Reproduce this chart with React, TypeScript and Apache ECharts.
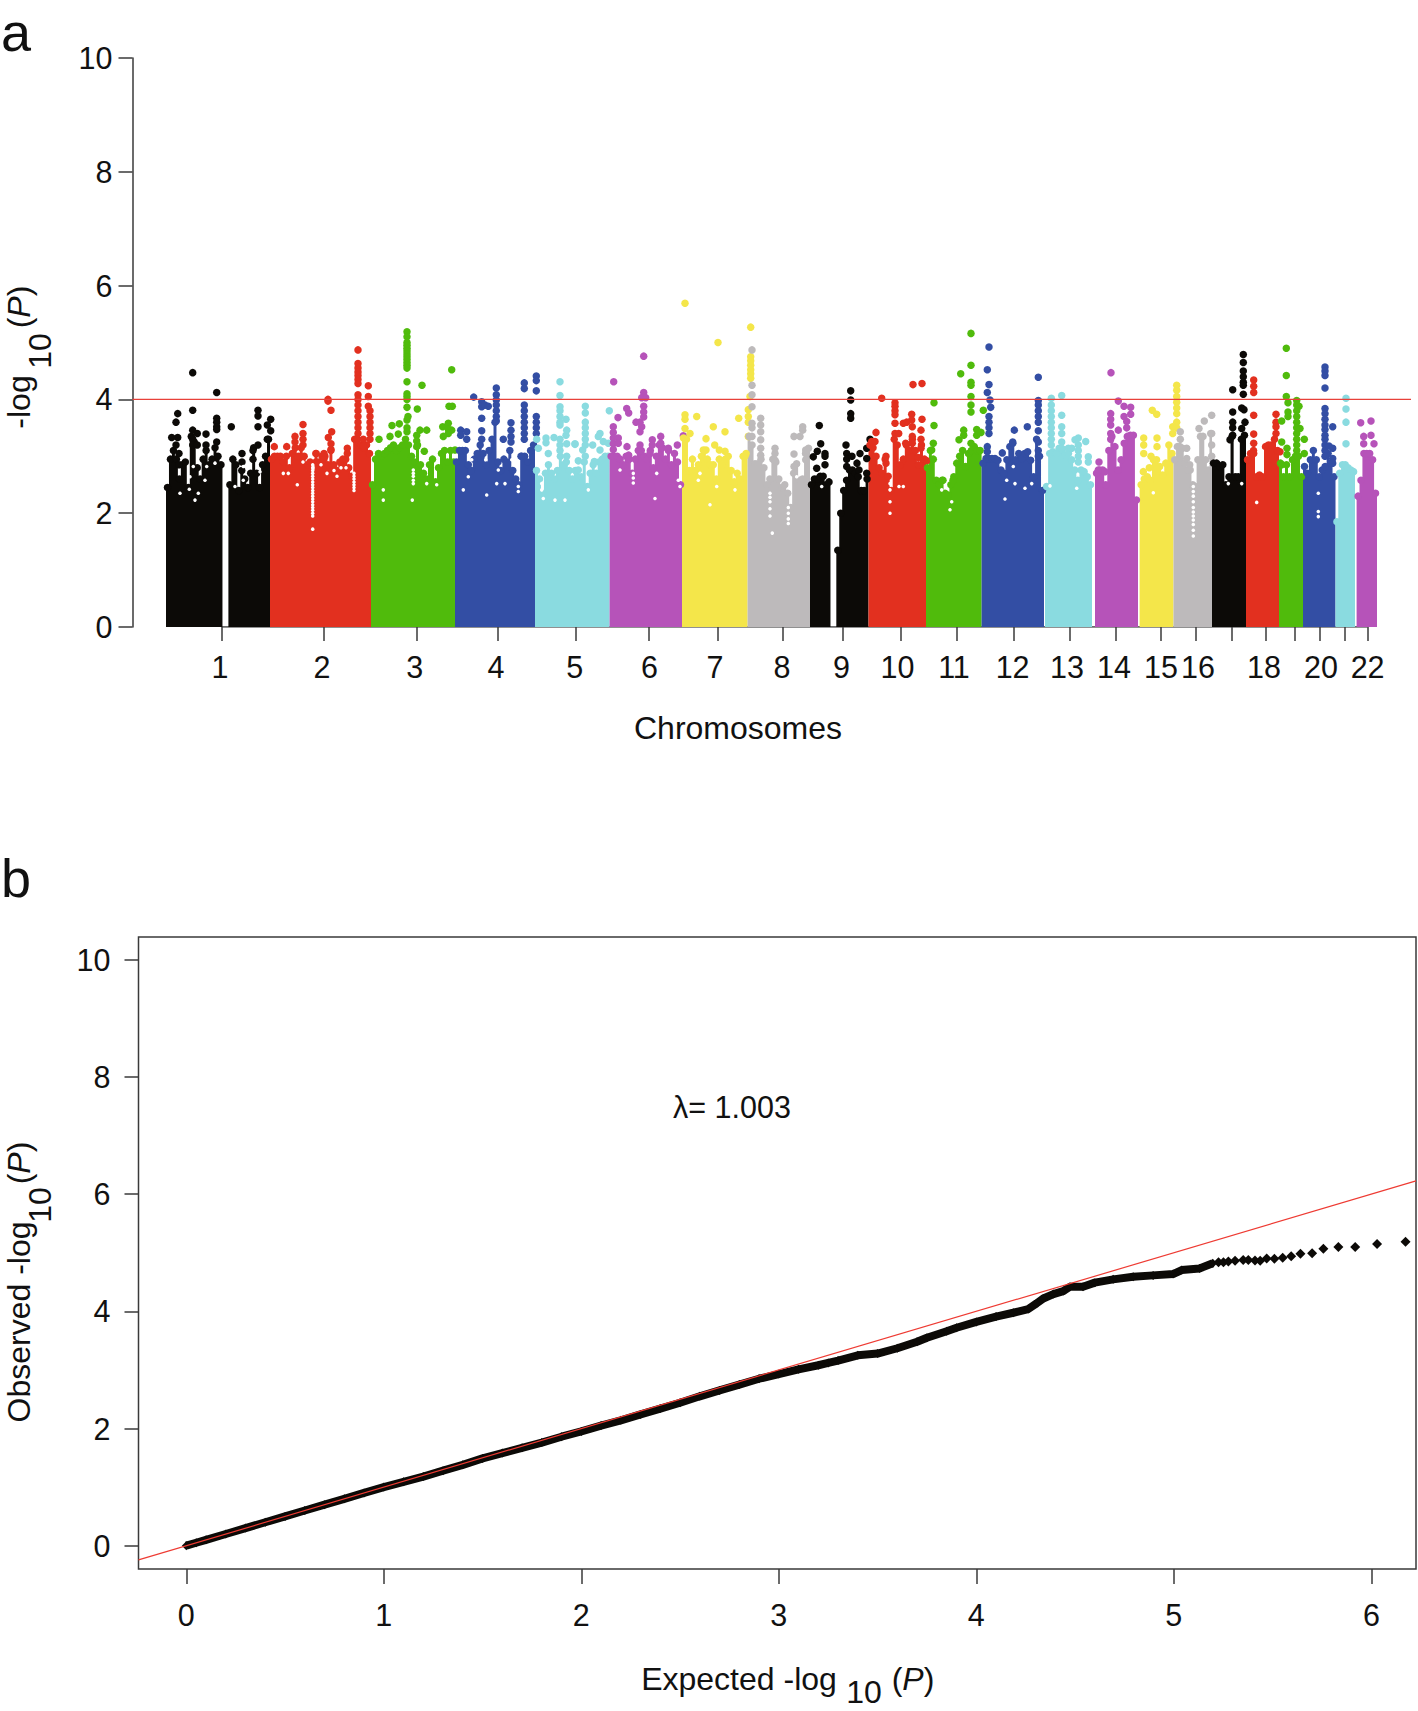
import React, { useEffect, useRef } from "react";
import * as echarts from "echarts";

const FONT = "Liberation Sans";

// ---------- Panel a : genome position runs in scaled units from the start of chr 1 ----------
const chromStart = [0, 104, 205, 289, 369, 443.6, 516, 581.6, 644, 702.5, 760, 815.6, 879, 929, 973.6, 1007.5, 1046, 1080, 1113, 1137, 1169.5, 1190.6];
const chromEnd = [104, 205, 289, 369, 443.6, 516, 581.6, 644, 702.5, 760, 815.6, 878, 926, 972, 1007.5, 1046, 1080, 1113, 1137, 1169.5, 1189, 1211];
const chromTicks = [56, 158, 250.7, 332, 409.7, 482.6, 552, 617, 676.4, 734.5, 791, 847.6, 904, 950, 995, 1030, 1066, 1100, 1129, 1154, 1179, 1201.6];
const labelledTicks = [54, 156, 248.7, 330, 408.7, 483.6, 549, 616, 675.4, 731.5, 788, 846.6, 901, 948, 995, 1032, 1098, 1155, 1201.6];
const labelledNames = ["1", "2", "3", "4", "5", "6", "7", "8", "9", "10", "11", "12", "13", "14", "15", "16", "18", "20", "22"];
const chromColors = ["#0c0a07", "#e2301f", "#50bb0c", "#334ea4", "#8adbe0", "#b653b9", "#f4e64a", "#bdbabb"];
const threshold = 4;

// Top of the solid mass of points, in equal bins along each chromosome
const chr1Tops = [2.45, 2.95, 3.1, 2.95, 2.6, 2.85, 2.9, 2.45, 3.35, 3.25, 2.8, 2.6, 2.95, 3.1, 2.85, 2.95, 3.15, 3.0, 2.85, 0, 0, 2.5, 2.95, 2.85, 2.4, 2.75, 2.6, 2.45, 2.7, 3.15, 2.7, 2.45, 2.85, 3.0, 3.3];
const chr2Tops = [2.95, 3.0, 3.0, 3.0, 2.9, 3.0, 2.8, 3.05, 3.15, 3.0, 3.15, 3.0, 2.85, 2.9, 2.7, 3.05, 2.9, 3.0, 3.0, 2.85, 3.1, 2.85, 2.75, 2.9, 2.95, 2.95, 2.8, 2.65, 3.3, 3.3, 3.2, 3.15, 3.2, 3.05];
const chr3Tops = [2.5, 2.95, 3.05, 3.0, 3.05, 3.1, 3.15, 3.2, 3.1, 3.15, 3.2, 3.3, 3.2, 3.0, 2.9, 3.2, 2.85, 2.7, 2.6, 2.85, 2.95, 2.55, 2.8, 3.05, 3.1, 2.9, 3.1, 2.9];
const chr4Tops = [2.9, 3.1, 3.1, 3.1, 2.85, 2.75, 2.95, 3.05, 3.2, 3.05, 2.85, 3.1, 3.3, 3.6, 2.9, 2.75, 2.95, 2.9, 3.1, 2.75, 2.6, 2.5, 3.0, 3.0, 2.9, 3.1, 3.2];
const chr5Tops = [2.75, 2.6, 2.35, 2.7, 2.85, 2.7, 2.6, 2.75, 3.0, 2.85, 2.9, 2.75, 2.6, 2.75, 2.76, 2.64, 2.9, 2.47, 2.7, 2.85, 2.7, 2.9, 2.95, 3.0, 3.0];
const chr6Tops = [3.0, 3.0, 3.0, 2.95, 2.85, 3.0, 2.95, 2.7, 2.95, 3.1, 3.1, 3.0, 2.95, 3.1, 2.8, 3.0, 3.2, 3.15, 2.95, 3.1, 2.85, 3.05, 2.9, 2.5];
const chr7Tops = [3.32, 3.3, 2.75, 2.95, 2.75, 2.85, 3.0, 3.1, 2.95, 2.85, 2.85, 2.6, 2.95, 2.85, 2.95, 3.0, 2.75, 2.55, 2.7, 2.6, 3.0, 3.05];
const chr8Tops = [3.35, 3.2, 2.87, 2.87, 2.95, 2.8, 2.5, 2.6, 2.95, 2.9, 2.6, 2.45, 2.5, 2.35, 2.1, 2.7, 2.87, 2.58, 2.6, 3.05, 3.14];
const chr9Tops = [2.5, 2.6, 2.6, 2.65, 2.65, 2.5, 2.55, 0, 0, 1.35, 2.0, 2.4, 2.58, 2.76, 2.76, 2.7, 2.64, 2.4, 2.4, 2.6];
const chr10Tops = [3.2, 3.15, 3.0, 2.8, 2.7, 2.95, 2.65, 2.4, 3.3, 3.2, 2.85, 2.95, 3.2, 3.1, 3.3, 3.1, 2.85, 3.2, 2.95];
const chr11Tops = [2.8, 3.1, 2.95, 2.58, 2.5, 2.58, 2.35, 2.32, 2.5, 2.64, 2.88, 3.0, 3.1, 2.82, 3.05, 3.1, 3.17, 3.1, 3.1];
const chr12Tops = [2.88, 2.96, 2.96, 2.96, 2.96, 2.93, 2.76, 2.7, 2.94, 3.17, 3.23, 2.94, 3.05, 2.96, 3.05, 3.08, 2.93, 2.64, 3.3, 3.0, 2.4];
const chr13Tops = [2.47, 3.05, 3.08, 3.05, 3.14, 3.11, 3.02, 3.05, 2.94, 2.76, 2.58, 2.76, 2.73, 2.64, 2.5];
const chr14Tops = [2.7, 2.76, 2.76, 2.5, 3.1, 3.35, 3.17, 2.76, 2.94, 3.23, 3.35, 3.37, 3.37, 2.23];
const chr15Tops = [2.5, 2.6, 2.64, 2.58, 2.94, 2.94, 2.82, 2.67, 2.88, 3.2, 3.05];
const chr16Tops = [2.94, 3.17, 3.17, 3.14, 2.88, 2.76, 2.76, 2.5, 2.47, 2.94, 3.35, 3.35, 2.94, 2.76, 3.4];
const chr17Tops = [2.88, 2.88, 2.82, 2.85, 2.5, 2.64, 3.35, 2.64, 2.64, 3.3, 3.37];
const chr18Tops = [2.94, 3.05, 3.1, 2.64, 2.67, 2.64, 3.17, 3.2, 3.2, 3.3, 3.1];
const chr19Tops = [2.88, 2.64, 2.85, 2.64, 2.94, 3.0, 3.0, 2.64];
const chr20Tops = [2.82, 2.7, 2.94, 3.1, 2.94, 2.64, 2.76, 2.82, 3.05, 2.88, 2.64];
const chr21Tops = [1.85, 2.7, 2.85, 2.85, 2.8, 2.76, 2.73];
const chr22Tops = [2.3, 2.58, 3.05, 3.05, 3.05, 2.94, 2.35];

// Separate points above the mass: each row is [position, value, value, ...]
const chr1Hits = [[26.7, 4.47, 3.81, 3.46, 3.3, 3.2], [50.7, 4.12, 3.67, 3.6, 3.52, 3.47, 3.25], [11.7, 3.75, 3.33], [10, 3.6, 3.2], [92, 3.81, 3.71, 3.52, 3.2], [65.3, 3.52], [104.7, 3.65, 3.45], [101.3, 3.55, 3.3], [5.7, 3.33], [31.3, 3.4, 3.2], [40, 3.39, 3.2], [76, 3.05, 2.9], [87, 3.1, 2.95], [13, 3.05, 2.85]];
const chr2Hits = [[192, 4.87, 4.63, 4.55, 4.48, 4.42, 4.35, 4.28, 4.08, 4.0, 3.9, 3.8, 3.7, 3.6, 3.5, 3.4], [202.3, 4.24, 4.05, 3.88], [204, 3.8, 3.7, 3.6, 3.5, 3.4, 3.3], [162, 4.0, 3.97], [165, 3.81, 3.22, 3.12], [137, 3.56, 3.4, 3.3, 3.2], [129, 3.35, 3.25], [120.7, 3.17], [108.3, 3.17], [165.7, 3.43], [162.3, 3.33], [181.3, 3.14, 3.05], [158, 3.05, 2.95], [150, 3.05, 2.9], [197.3, 3.3, 3.18]];
const chr3Hits = [[241, 5.19, 5.1, 5.0, 4.95, 4.9, 4.85, 4.8, 4.75, 4.7, 4.65, 4.6, 4.55, 4.31, 4.1, 4.05, 4.0, 3.86, 3.64, 3.5, 3.43], [256, 4.25], [285.7, 4.52, 3.46], [251.3, 3.83], [283, 3.88], [286.3, 3.88], [242, 3.7], [226, 3.54], [233.3, 3.57], [260.7, 3.46], [254, 3.46], [250.7, 3.37, 3.27, 3.17], [276.7, 3.52], [282.3, 3.58, 3.48, 3.4], [277.3, 3.35], [213, 3.3], [224, 3.35], [232.3, 3.39], [258.3, 3.09], [289, 3.11]];
const chr4Hits = [[370.3, 4.41, 4.33, 4.15, 3.7, 3.6, 3.5, 3.4], [358.3, 4.29, 4.19, 3.9, 3.8, 3.7, 3.6, 3.5, 3.4, 3.3], [330.3, 4.2, 4.08, 3.99, 3.9, 3.8, 3.7, 3.62], [307.7, 4.04], [315.7, 3.87, 3.96, 3.67, 3.45, 3.3], [319, 3.9], [322.3, 3.88], [345, 3.59, 3.46, 3.35, 3.25], [337.3, 3.3], [294.7, 3.46, 3.37], [300.7, 3.43, 3.3], [355, 3.0]];
const chr5Hits = [[394, 4.31, 4.07, 3.87, 3.8, 3.7, 3.6, 3.55, 3.3, 3.2, 3.1], [400, 3.65, 3.37], [400.7, 3.46, 3.22, 3.0], [370.7, 3.3], [380, 3.32, 3.24], [388, 3.33], [409, 3.22, 3.21], [382.3, 3.05], [372.3, 3.14], [412.3, 2.92], [419.3, 3.88, 3.76, 3.6, 3.5, 3.4, 3.3, 3.2, 3.0], [443.3, 3.8], [434, 3.4, 3.11], [437.3, 3.26], [432.3, 3.35], [426.7, 3.2], [416.7, 3.11], [442.3, 3.23], [428.3, 2.91]];
const chr6Hits = [[477.7, 4.76, 4.12, 4.05, 3.88, 3.78, 3.69], [447.7, 4.31], [475.7, 4.03, 3.52], [479.7, 4.03], [460.7, 3.84], [462.7, 3.76, 3.02], [452, 3.68], [470, 3.6], [474, 3.6, 3.43, 3.2], [447.3, 3.52, 3.42, 3.32, 3.22, 3.12], [452.3, 3.32, 3.23], [461, 3.17], [486.3, 3.29, 3.2], [494.7, 3.35, 3.23], [502.3, 3.14], [511.3, 3.2], [517.3, 3.36], [484, 3.05]];
const chr7Hits = [[519, 5.69, 3.73, 3.65, 3.49], [552, 5.0], [584.7, 5.27, 4.75, 4.68, 4.6, 4.52, 4.45, 4.37], [584, 4.05], [582.3, 3.82, 3.7, 3.6, 3.35], [579, 3.0], [530.7, 3.7], [572.7, 3.67], [547.3, 3.52], [524, 3.4], [559, 3.43, 3.09], [540, 3.31, 3.11], [548.7, 3.2], [553.3, 3.11], [537.3, 3.11]];
const chr8Hits = [[586, 4.87, 4.25, 4.08, 3.87, 3.58, 3.5, 3.35], [594.7, 3.67, 3.55, 3.43, 3.29, 3.14, 3.02], [609, 3.14, 3.05, 2.93], [636.7, 3.52, 3.46], [628, 3.35, 3.04, 2.82], [634, 3.35], [639.7, 3.11, 2.94]];
const chr9Hits = [[684.7, 4.15, 3.99, 3.75, 3.67], [653.3, 3.54], [654.7, 3.22], [651.3, 3.09], [647.3, 2.99], [659, 3.05, 3.0, 2.85], [650.7, 2.79], [680, 3.2], [704, 3.3], [700.7, 3.14, 2.96, 2.7], [694, 3.05], [680.7, 3.05, 2.95, 2.82], [686, 3.0], [691, 2.88], [693, 2.76]];
const chr10Hits = [[715.7, 4.02], [747, 4.26], [756, 4.28, 3.65], [729, 3.94, 3.88, 3.8, 3.73, 3.58, 3.4], [745.7, 3.74, 3.64], [746.3, 3.52, 3.35, 3.23], [755, 3.46, 3.3, 3.14], [737.3, 3.58], [740.7, 3.6], [710, 3.42], [705.7, 3.26], [709, 3.26], [720, 3.0, 2.88], [739.7, 3.23], [732.7, 3.4], [760.7, 2.92], [752.3, 2.98]];
const chr11Hits = [[805, 5.16, 4.6, 4.3, 4.25, 4.05, 3.9, 3.78, 3.23], [794.7, 4.45], [768, 3.94, 3.54], [817.3, 3.81], [767.3, 3.23], [765.7, 3.11], [797.7, 3.46, 3.37], [793, 3.29], [810.7, 3.47, 3.37], [815, 3.42], [777, 2.58], [787, 2.58]];
const chr12Hits = [[823, 4.92, 4.26, 3.7, 3.6, 3.5, 3.4], [821.3, 4.52, 4.12, 3.17, 3.08], [824, 3.99], [824.7, 3.86], [872.3, 4.39, 3.98, 3.9, 3.8, 3.7, 3.6, 3.45, 3.25, 3.1, 3.0], [848.3, 3.46], [861.3, 3.52], [836.3, 3.06], [846.7, 3.25]];
const chr13Hits = [[885.3, 4.02, 3.9, 3.8, 3.7, 3.6, 3.5, 3.4, 3.3, 3.2], [895.7, 4.07, 3.72, 3.52, 3.4, 3.25, 3.14], [902.3, 3.14], [905.7, 3.14], [912.3, 3.32, 3.2, 3.1, 3.0, 2.9], [909, 3.29], [919.7, 3.26], [922.3, 2.99, 2.9]];
const chr14Hits = [[945, 4.47], [952.3, 3.97, 3.46], [958, 3.88, 3.7], [964.7, 3.86, 3.74], [960.7, 3.61, 3.5], [944.7, 3.75, 3.65, 3.55, 3.4, 3.3], [933, 2.9], [932.3, 2.76], [939, 2.73]];
const chr15Hits = [[1010.7, 4.25, 4.16, 4.05, 3.95, 3.85, 3.75, 3.6, 3.5], [1006.7, 3.52, 3.4], [986.3, 3.81], [990.7, 3.74], [977.7, 3.32, 3.2, 3.05], [991, 3.32, 3.17], [985, 3.0], [983.3, 2.8], [977.3, 2.73]];
const chr16Hits = [[1014.3, 3.43, 3.3], [1045.7, 3.72, 3.4, 3.2, 3.0], [1038.3, 3.62], [1033, 3.49], [1020.7, 3.14, 2.96], [1023.7, 2.85]];
const chr17Hits = [[1077.3, 4.79, 4.65, 4.5, 4.4, 4.3, 4.25, 4.09], [1066.7, 4.17, 3.78, 3.6, 3.5, 3.37], [1075.7, 3.85, 3.49], [1078, 3.82], [1079, 3.6], [1064, 3.29]];
const chr18Hits = [[1087.7, 4.34, 4.23, 4.12, 3.72, 3.39, 3.23, 3.05], [1110, 3.74, 3.6, 3.52, 3.4], [1114, 3.08]];
const chr19Hits = [[1120.3, 4.9, 4.42, 4.05], [1122, 3.94, 3.78, 3.7], [1115.7, 3.62, 3.25, 2.85], [1121, 3.14, 3.03], [1130.7, 3.98, 3.9, 3.8, 3.7, 3.6, 3.5, 3.4, 3.3, 3.2, 3.1, 3.0], [1133, 3.88], [1134, 3.49], [1138.3, 3.3, 3.05]];
const chr20Hits = [[1159, 4.57, 4.5, 4.42, 4.2, 3.84, 3.75, 3.65, 3.55, 3.47, 3.37, 3.3, 3.2, 3.1, 3.0], [1166.7, 3.52, 3.14, 2.96, 2.88], [1163, 3.18]];
const chr21Hits = [[1180, 4.02, 3.83, 3.6, 3.22]];
const chr22Hits = [[1194.7, 3.59], [1205, 3.62, 3.37], [1197.7, 3.35, 3.22], [1208, 3.22]];

// Places inside the mass where no point falls (the white specks): [position, value, value, ...]
const massGaps = [
  [14, 2.35], [29, 2.23], [23.3, 2.42], [32.3, 2.35], [27.3, 2.82], [39, 2.58], [40.7, 2.82], [49, 2.88], [77.3, 2.82, 2.58], [69, 2.47], [94, 2.73], [24, 2.64],
  [146.7, 2.85, 2.8, 2.75, 2.7, 2.65, 2.6, 2.55, 2.5, 2.45, 2.4, 2.35, 2.3, 2.25, 2.2, 2.15, 2.1, 2.05, 2.0, 1.95, 1.72], [188, 2.7, 2.65, 2.6, 2.55, 2.5, 2.45, 2.4], [117.3, 2.7], [122.3, 2.7], [131.3, 2.5], [161, 2.7], [168, 2.75], [175, 2.8], [171, 2.65], [180, 2.8], [155, 2.85], [137, 2.9],
  [247.3, 2.76, 2.7, 2.65, 2.58, 2.52], [260.7, 2.52], [270.7, 2.5], [217.3, 2.41, 2.23], [246.3, 2.23],
  [305.7, 2.94], [302.3, 2.64], [332.3, 2.76], [339, 2.52], [330.7, 2.52], [320.7, 2.32], [297.3, 2.41], [352.3, 2.47, 2.38], [319.7, 2.94], [345.7, 2.94],
  [377.3, 2.26], [389, 2.23], [399, 2.23], [375.7, 2.52, 2.41], [422.3, 2.41],
  [467.3, 2.7, 2.62, 2.53], [454, 2.76], [490.7, 2.7], [489, 2.26], [514, 2.47], [512.3, 2.58],
  [532.3, 2.58], [550.7, 2.47], [569, 2.41], [534, 2.7], [544, 2.15],
  [604, 2.35, 2.28, 2.2, 2.08, 1.95], [606.3, 1.65], [622.3, 2.1, 2.0, 1.9, 1.82], [630.7, 2.64], [655.7, 2.47],
  [724, 2.52, 2.41, 2.2, 2.0], [733, 2.47], [737.3, 2.47], [784, 2.06], [785.7, 2.2], [775.7, 2.41],
  [839, 2.25], [849, 2.52], [865.7, 2.52], [859, 2.44], [840.7, 2.58], [847.3, 2.82], [910.7, 2.44], [884, 2.48], [987.3, 2.36],
  [1027.3, 2.47, 2.38, 2.3, 2.2, 2.1, 2.02, 1.95, 1.88, 1.8, 1.7, 1.6], [1090.7, 2.19], [1152.3, 2.35, 2.03, 1.94], [1075.7, 2.52], [1062.3, 2.52],
];

const allTops = [chr1Tops, chr2Tops, chr3Tops, chr4Tops, chr5Tops, chr6Tops, chr7Tops, chr8Tops, chr9Tops, chr10Tops, chr11Tops, chr12Tops, chr13Tops, chr14Tops, chr15Tops, chr16Tops, chr17Tops, chr18Tops, chr19Tops, chr20Tops, chr21Tops, chr22Tops];
const allHits = [chr1Hits, chr2Hits, chr3Hits, chr4Hits, chr5Hits, chr6Hits, chr7Hits, chr8Hits, chr9Hits, chr10Hits, chr11Hits, chr12Hits, chr13Hits, chr14Hits, chr15Hits, chr16Hits, chr17Hits, chr18Hits, chr19Hits, chr20Hits, chr21Hits, chr22Hits];

// ---------- Panel b ----------
const qqExpected = [0, 0.05, 0.1, 0.2, 0.3, 0.4, 0.5, 0.6, 0.7, 0.8, 0.9, 1, 1.1, 1.2, 1.3, 1.4, 1.5, 1.6, 1.7, 1.8, 1.9, 2, 2.1, 2.2, 2.3, 2.4, 2.5, 2.6, 2.7, 2.8, 2.9, 3, 3.1, 3.2, 3.25, 3.3, 3.4, 3.5, 3.6, 3.7, 3.75, 3.85, 3.9, 4, 4.1, 4.187, 4.263, 4.305, 4.339, 4.39, 4.44, 4.474, 4.54, 4.6, 4.693, 4.794, 4.895, 4.996, 5.04, 5.13, 5.197];
const qqObserved = [0, 0.05, 0.1, 0.2, 0.3, 0.4, 0.5, 0.6, 0.7, 0.8, 0.9, 1, 1.09, 1.18, 1.28, 1.38, 1.49, 1.58, 1.67, 1.76, 1.86, 1.95, 2.05, 2.14, 2.24, 2.34, 2.44, 2.55, 2.65, 2.75, 2.85, 2.93, 3.01, 3.08, 3.12, 3.16, 3.25, 3.28, 3.37, 3.48, 3.55, 3.66, 3.72, 3.82, 3.91, 3.976, 4.04, 4.136, 4.22, 4.295, 4.346, 4.42, 4.42, 4.49, 4.546, 4.59, 4.614, 4.636, 4.705, 4.733, 4.82];
const tailExpected = [5.226, 5.251, 5.276, 5.31, 5.351, 5.377, 5.411, 5.437, 5.47, 5.509, 5.551, 5.594, 5.641, 5.7, 5.757, 5.833, 5.918, 6.029, 6.173];
const tailObserved = [4.84, 4.84, 4.85, 4.864, 4.875, 4.875, 4.87, 4.864, 4.904, 4.898, 4.915, 4.94, 4.983, 4.99, 5.068, 5.097, 5.097, 5.15, 5.188];
const qqLine = [-0.242, 6.226];

const AXIS_COLOR = "#3a3a3a";
const TEXT_COLOR = "#111111";
const TICK_SIZE = 30.5;
const TITLE_SIZE = 32;

function text(x: number, y: number, str: string, size = TITLE_SIZE, rotation = 0, align = "center", extra: any = {}) {
  return {
    type: "text",
    x,
    y,
    rotation,
    silent: true,
    style: { text: str, fontFamily: FONT, fontSize: size, fill: TEXT_COLOR, align, verticalAlign: "middle", ...extra },
  };
}

function pRich() {
  return { rich: { i: { fontStyle: "italic", fontFamily: FONT, fontSize: TITLE_SIZE, fill: TEXT_COLOR } } };
}

export default function App() {
  const ref = useRef<HTMLDivElement>(null);
  useEffect(() => {
    document.body.style.margin = "0";
    const chart = echarts.init(ref.current!, undefined, { renderer: "svg" });
    const series: any[] = [];
    series.push({
      type: "line",
      xAxisIndex: 0,
      yAxisIndex: 0,
      data: [[chromTicks[0], 0], [chromTicks[chromTicks.length - 1], 0]],
      showSymbol: false,
      silent: true,
      lineStyle: { color: AXIS_COLOR, width: 1.5 },
      z: 1,
    });
    allTops.forEach((tops, c) => {
      const color = chromColors[c % chromColors.length];
      const start = chromStart[c];
      const end = chromEnd[c];
      const w = (end - start) / tops.length;
      const centers = tops.map((v, i) => [start + (i + 0.5) * w, v]);
      series.push({
        type: "line",
        name: "chr" + (c + 1),
        xAxisIndex: 0,
        yAxisIndex: 0,
        step: "middle",
        showSymbol: false,
        silent: true,
        data: [[start, tops[0]], ...centers, [end, tops[tops.length - 1]]],
        lineStyle: { width: 0, color },
        itemStyle: { color },
        areaStyle: { color, opacity: 1 },
        z: 2,
      });
      const dots: number[][] = centers.filter((p) => p[1] > 0);
      allHits[c].forEach((row) => row.slice(1).forEach((v) => dots.push([row[0], v])));
      series.push({
        type: "scatter",
        name: "chr" + (c + 1) + " points",
        xAxisIndex: 0,
        yAxisIndex: 0,
        symbol: "circle",
        symbolSize: 7.5,
        silent: true,
        data: dots,
        itemStyle: { color, opacity: 1 },
        z: 2,
      });
    });
    const gapDots: number[][] = [];
    massGaps.forEach((row) => row.slice(1).forEach((v) => gapDots.push([row[0], v])));
    series.push({
      type: "scatter",
      name: "mass gaps",
      xAxisIndex: 0,
      yAxisIndex: 0,
      symbol: "circle",
      symbolSize: 3.5,
      silent: true,
      data: gapDots,
      itemStyle: { color: "#ffffff", opacity: 1 },
      z: 3,
    });
    series.push({
      type: "line",
      name: "threshold",
      xAxisIndex: 0,
      yAxisIndex: 0,
      showSymbol: false,
      silent: true,
      data: [[-33.5, threshold], [1245, threshold]],
      lineStyle: { color: "#e8403a", width: 1.2 },
      z: 5,
    });
    series.push({
      type: "line",
      name: "observed",
      xAxisIndex: 1,
      yAxisIndex: 1,
      symbol: "diamond",
      symbolSize: 9,
      showSymbol: true,
      showAllSymbol: true,
      silent: true,
      data: qqExpected.map((x, i) => [x, qqObserved[i]]),
      itemStyle: { color: "#0c0a07" },
      lineStyle: { color: "#0c0a07", width: 8 },
      z: 3,
    });
    series.push({
      type: "scatter",
      name: "observed tail",
      xAxisIndex: 1,
      yAxisIndex: 1,
      symbol: "diamond",
      symbolSize: 10,
      silent: true,
      data: tailExpected.map((x, i) => [x, tailObserved[i]]),
      itemStyle: { color: "#0c0a07", opacity: 1 },
      z: 3,
    });
    series.push({
      type: "line",
      name: "expected",
      xAxisIndex: 1,
      yAxisIndex: 1,
      showSymbol: false,
      silent: true,
      data: qqLine.map((v) => [v, v]),
      lineStyle: { color: "#ee3b33", width: 1.2 },
      z: 5,
    });

    const axisLabel = { fontFamily: FONT, fontSize: TICK_SIZE, color: TEXT_COLOR };
    chart.setOption({
      animation: false,
      backgroundColor: "#ffffff",
      grid: [
        { left: 132.5, top: 58, width: 1278.5, height: 569, show: false },
        { left: 138.5, top: 937, width: 1277.5, height: 632, show: true, borderColor: AXIS_COLOR, borderWidth: 1.5, backgroundColor: "transparent" },
      ],
      xAxis: [
        {
          gridIndex: 0,
          type: "value",
          min: -33.5,
          max: 1245,
          axisLine: { show: false, onZero: false },
          axisTick: { show: true, length: 14, customValues: chromTicks, lineStyle: { color: AXIS_COLOR, width: 1.5 } },
          axisLabel: {
            ...axisLabel,
            margin: 24,
            customValues: labelledTicks,
            formatter: (v: number) => labelledNames[labelledTicks.indexOf(v)] ?? "",
          },
          splitLine: { show: false },
        },
        {
          gridIndex: 1,
          type: "value",
          min: -0.242,
          max: 6.226,
          axisLine: { show: false, onZero: false },
          axisTick: { show: true, length: 15, customValues: [0, 1, 2, 3, 4, 5, 6], lineStyle: { color: AXIS_COLOR, width: 1.5 } },
          axisLabel: { ...axisLabel, margin: 30, customValues: [0, 1, 2, 3, 4, 5, 6], formatter: (v: number) => String(v) },
          splitLine: { show: false },
        },
      ],
      yAxis: [
        {
          gridIndex: 0,
          type: "value",
          min: 0,
          max: 10,
          interval: 2,
          axisLine: { show: true, onZero: false, lineStyle: { color: AXIS_COLOR, width: 1.5 } },
          axisTick: { show: true, length: 14, lineStyle: { color: AXIS_COLOR, width: 1.5 } },
          axisLabel: { ...axisLabel, margin: 20 },
          splitLine: { show: false },
        },
        {
          gridIndex: 1,
          type: "value",
          min: -0.398,
          max: 10.39,
          axisLine: { show: false, onZero: false },
          axisTick: { show: true, length: 14, customValues: [0, 2, 4, 6, 8, 10], lineStyle: { color: AXIS_COLOR, width: 1.5 } },
          axisLabel: { ...axisLabel, margin: 28, customValues: [0, 2, 4, 6, 8, 10], formatter: (v: number) => String(v) },
          splitLine: { show: false },
        },
      ],
      graphic: [
        text(1, 32, "a", 54, 0, "left"),
        text(1, 878, "b", 54, 0, "left"),
        text(738, 728, "Chromosomes"),
        text(19, 402, "-log", TITLE_SIZE, Math.PI / 2),
        text(40, 351, "10", TITLE_SIZE, Math.PI / 2),
        text(19, 307, "({i|P})", TITLE_SIZE, Math.PI / 2, "center", pRich()),
        text(19, 1322, "Observed -log", TITLE_SIZE, Math.PI / 2),
        text(40, 1205, "10", TITLE_SIZE, Math.PI / 2),
        text(19, 1163, "({i|P})", TITLE_SIZE, Math.PI / 2, "center", pRich()),
        text(739, 1679, "Expected -log"),
        text(864, 1692, "10"),
        text(913, 1679, "({i|P})", TITLE_SIZE, 0, "center", pRich()),
        text(732, 1107, "λ= 1.003", 30.5),
      ],
      series,
    });
    return () => chart.dispose();
  }, []);
  return <div ref={ref} style={{ position: "absolute", left: 0, top: 0, width: 1418, height: 1711 }} />;
}
